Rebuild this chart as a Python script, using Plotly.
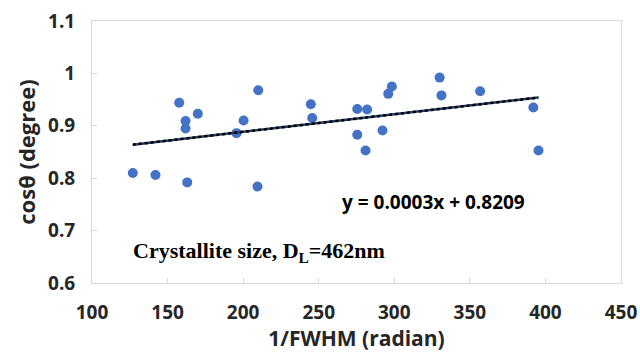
import numpy as np
import plotly.graph_objects as go

x_vals = [127, 142, 157.7, 161.9, 161.9, 163, 170, 195.6, 200.3, 210, 209.5,
          244.8, 245.7, 275.5, 275.5, 282, 281, 292.2, 296, 298.4, 330, 331.2,
          356.8, 392, 395.4]
y_vals = [0.810, 0.806, 0.944, 0.909, 0.895, 0.792, 0.923, 0.886, 0.910, 0.968, 0.784,
          0.941, 0.915, 0.932, 0.883, 0.931, 0.853, 0.891, 0.961, 0.975, 0.992, 0.958,
          0.966, 0.935, 0.853]
x_ticks = [100, 150, 200, 250, 300, 350, 400, 450]
y_ticks = [0.6, 0.7, 0.8, 0.9, 1.0, 1.1]
y_ticktext = ["0.6", "0.7", "0.8", "0.9", "1", "1.1"]

slope, intercept = np.polyfit(x_vals, y_vals, 1)
tx = [min(x_vals), max(x_vals)]
ty = [slope * v + intercept for v in tx]

fig = go.Figure()
fig.add_trace(go.Scatter(x=x_vals, y=y_vals, mode="markers",
                         marker=dict(color="#4472C4", size=10), showlegend=False))
fig.add_trace(go.Scatter(x=tx, y=ty, mode="lines",
                         line=dict(color="#1F3864", width=2.5), showlegend=False))
fig.add_trace(go.Scatter(x=tx, y=ty, mode="lines",
                         line=dict(color="black", width=2.5, dash="dot"), showlegend=False))

fig.add_annotation(x=388, y=0.755, xref="x", yref="y", text="<b>y = 0.0003x + 0.8209</b>",
                   showarrow=False, xanchor="right",
                   font=dict(family="Open Sans", size=19, color="#000000"))
fig.add_annotation(x=126, y=0.66, xref="x", yref="y",
                   text="<b>Crystallite size, D<sub>L</sub>=462nm</b>",
                   showarrow=False, xanchor="left",
                   font=dict(family="Liberation Serif", size=22, color="#000000"))

axis_common = dict(showline=True, linecolor="#d9d9d9", linewidth=1, mirror=True,
                   showgrid=False, zeroline=False, ticks="inside", ticklen=5,
                   tickcolor="#d9d9d9", ticklabelstandoff=12, automargin=False,
                   tickfont=dict(family="Open Sans", size=19, color="#262626", weight="bold"))

fig.update_xaxes(range=[100, 450], tickvals=x_ticks,
                 title=dict(text="<b>1/FWHM (radian)</b>", standoff=6,
                            font=dict(family="Open Sans", size=21, color="#262626")),
                 **axis_common)
fig.update_yaxes(range=[0.6, 1.1], tickvals=y_ticks, ticktext=y_ticktext,
                 title=dict(text="<b>cosθ (degree)</b>", standoff=6,
                            font=dict(family="Open Sans", size=22, color="#262626")),
                 **axis_common)

fig.update_layout(width=640, height=352, margin=dict(l=92, r=19, t=21, b=69),
                  plot_bgcolor="white", paper_bgcolor="white")
fig.write_html("out.html")
